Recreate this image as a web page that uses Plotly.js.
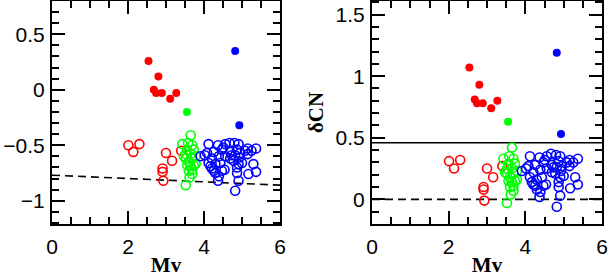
<!DOCTYPE html>
<html>
<head>
<meta charset="utf-8">
<script src="https://cdn.plot.ly/plotly-3.0.1.min.js"></script>
<style>html,body{margin:0;padding:0;background:#fff;}#chart{width:608px;height:277px;}</style>
</head>
<body>
<div id="chart"></div>
<script>
// ---- data (Mv shared by both panels; left = CN index, right = deltaCN) ----
const redFilledMv   = [2.54, 2.80, 2.68, 2.74, 2.89, 3.11, 3.27];
const redFilledCN   = [0.26, 0.12, 0.00, -0.03, -0.03, -0.08, -0.03];
const redFilledDCN  = [1.07, 0.93, 0.81, 0.78, 0.78, 0.74, 0.80];

const greenFilledMv  = [3.55];
const greenFilledCN  = [-0.20];
const greenFilledDCN = [0.63];

const blueFilledMv  = [4.82, 4.93];
const blueFilledCN  = [0.35, -0.32];
const blueFilledDCN = [1.19, 0.53];

const redOpenMv  = [2.01, 2.14, 2.30, 3.00, 3.16, 2.91, 2.91, 2.93, 3.40];
const redOpenCN  = [-0.50, -0.56, -0.49, -0.57, -0.64, -0.71, -0.74, -0.82, -0.55];
const redOpenDCN = [0.31, 0.25, 0.32, 0.25, 0.18, 0.10, 0.08, -0.01, 0.27];

const greenOpenMv  = [3.65, 3.58, 3.43, 3.69, 3.56, 3.73, 3.52, 3.65, 3.78, 3.52, 3.69,
                      3.60, 3.78, 3.65, 3.60, 3.69, 3.62, 3.52, 3.47, 3.73, 3.56, 3.69];
const greenOpenCN  = [-0.41, -0.48, -0.49, -0.50, -0.54, -0.54, -0.58, -0.58, -0.60, -0.62, -0.62,
                      -0.65, -0.67, -0.69, -0.73, -0.76, -0.79, -0.86, -0.60, -0.68, -0.68, -0.72];
const greenOpenDCN = [0.42, 0.35, 0.33, 0.33, 0.29, 0.29, 0.25, 0.25, 0.23, 0.21, 0.21,
                      0.18, 0.16, 0.14, 0.10, 0.07, 0.04, -0.03, 0.22, 0.15, 0.15, 0.11];

const blueOpenMv  = [3.91, 4.08, 4.12, 4.02, 4.26, 4.37, 4.51, 4.67, 4.80, 4.87, 4.69, 4.56,
                     4.39, 4.21, 4.30, 4.17, 4.26, 4.39, 4.37, 4.54, 4.87, 4.87, 4.91, 4.82,
                     5.00, 4.93, 4.78, 5.15, 5.37, 5.15, 5.30, 5.37, 5.17, 5.08, 5.25, 4.91,
                     4.56, 4.73, 4.69, 4.12, 4.43, 4.21, 4.82, 4.95, 4.47, 4.30, 4.47, 4.91];
const blueOpenCN  = [-0.60, -0.57, -0.49, -0.59, -0.56, -0.50, -0.52, -0.48, -0.48, -0.54, -0.56, -0.60,
                     -0.60, -0.62, -0.67, -0.69, -0.73, -0.78, -0.82, -0.72, -0.70, -0.75, -0.82, -0.91,
                     -0.66, -0.61, -0.64, -0.53, -0.53, -0.58, -0.67, -0.74, -0.76, -0.55, -0.55, -0.49,
                     -0.49, -0.59, -0.62, -0.66, -0.66, -0.71, -0.59, -0.57, -0.73, -0.75, -0.54, -0.67];
const blueOpenDCN = [0.23, 0.27, 0.35, 0.25, 0.28, 0.34, 0.32, 0.37, 0.36, 0.31, 0.28, 0.25,
                     0.24, 0.22, 0.16, 0.14, 0.11, 0.06, 0.02, 0.12, 0.14, 0.10, 0.03, -0.06,
                     0.19, 0.23, 0.21, 0.32, 0.33, 0.27, 0.18, 0.12, 0.09, 0.30, 0.30, 0.35,
                     0.35, 0.26, 0.22, 0.18, 0.18, 0.12, 0.26, 0.27, 0.11, 0.08, 0.30, 0.18];

// reference lines
const baseLeftX  = [0, 6];
const baseLeftY  = [-0.77, -0.86];
const zeroRightX = [0, 6];
const zeroRightY = [0, 0];
const cutRightX  = [0, 6];
const cutRightY  = [0.46, 0.46];

const xTicks = [0, 2, 4, 6];
const yTicksLeft  = [-1, -0.5, 0, 0.5];
const yTicksRight = [0, 0.5, 1, 1.5];

// ---- traces ----
function openTrace(x, y, color, xa, ya) {
  return {x: x, y: y, xaxis: xa, yaxis: ya, type: 'scatter', mode: 'markers',
    marker: {symbol: 'circle-open', size: 9, color: color, line: {width: 1.6, color: color}},
    hoverinfo: 'skip', showlegend: false, cliponaxis: false};
}
function filledTrace(x, y, color, xa, ya) {
  return {x: x, y: y, xaxis: xa, yaxis: ya, type: 'scatter', mode: 'markers',
    marker: {symbol: 'circle', size: 8, color: color, line: {width: 0}},
    hoverinfo: 'skip', showlegend: false, cliponaxis: false};
}
function lineTrace(x, y, dash, xa, ya) {
  return {x: x, y: y, xaxis: xa, yaxis: ya, type: 'scatter', mode: 'lines',
    line: {color: '#000', width: 1.6, dash: dash}, hoverinfo: 'skip', showlegend: false};
}
const RED = '#ff0000', GREEN = '#00ff00', BLUE = '#0000ff';

const data = [
  lineTrace(baseLeftX, baseLeftY, '8px,5px', 'x', 'y'),
  openTrace(redOpenMv, redOpenCN, RED, 'x', 'y'),
  openTrace(greenOpenMv, greenOpenCN, GREEN, 'x', 'y'),
  openTrace(blueOpenMv, blueOpenCN, BLUE, 'x', 'y'),
  filledTrace(redFilledMv, redFilledCN, RED, 'x', 'y'),
  filledTrace(greenFilledMv, greenFilledCN, GREEN, 'x', 'y'),
  filledTrace(blueFilledMv, blueFilledCN, BLUE, 'x', 'y'),

  lineTrace(zeroRightX, zeroRightY, '8px,5px', 'x2', 'y2'),
  lineTrace(cutRightX, cutRightY, 'solid', 'x2', 'y2'),
  openTrace(redOpenMv, redOpenDCN, RED, 'x2', 'y2'),
  openTrace(greenOpenMv, greenOpenDCN, GREEN, 'x2', 'y2'),
  openTrace(blueOpenMv, blueOpenDCN, BLUE, 'x2', 'y2'),
  filledTrace(redFilledMv, redFilledDCN, RED, 'x2', 'y2'),
  filledTrace(greenFilledMv, greenFilledDCN, GREEN, 'x2', 'y2'),
  filledTrace(blueFilledMv, blueFilledDCN, BLUE, 'x2', 'y2')
];

const tickFont = {family: 'Liberation Sans, Arial, sans-serif', size: 21, color: '#000'};
const titleFont = {family: 'Liberation Serif, Times New Roman, serif', size: 21, color: '#000'};

function xAxis(domain, anchor) {
  return {domain: domain, anchor: anchor, range: [0, 6], tickvals: xTicks,
    ticks: 'inside', ticklen: 13, tickwidth: 2, tickcolor: '#000',
    showline: true, linewidth: 2, linecolor: '#000', mirror: 'allticks',
    showgrid: false, zeroline: false, tickfont: tickFont, ticklabelstandoff: 3,
    minor: {dtick: 0.5, tick0: 0, ticks: 'inside', ticklen: 7, tickwidth: 2, tickcolor: '#000', showgrid: false},
    title: {text: '<b>Mv</b>', font: titleFont, standoff: 0}};
}
function yAxis(domain, anchor, range, vals, title) {
  const ax = {domain: domain, anchor: anchor, range: range, tickvals: vals,
    ticks: 'inside', ticklen: 13, tickwidth: 2, tickcolor: '#000',
    showline: true, linewidth: 2, linecolor: '#000', mirror: 'allticks',
    showgrid: false, zeroline: false, tickfont: tickFont, ticklabelstandoff: 1,
    minor: {dtick: 0.1, tick0: 0, ticks: 'inside', ticklen: 7, tickwidth: 2, tickcolor: '#000', showgrid: false}};
  if (title) ax.title = {text: title, font: titleFont, standoff: 6};
  return ax;
}

const layout = {
  width: 608, height: 277,
  margin: {l: 0, r: 0, t: 1, b: 53},
  paper_bgcolor: '#fff', plot_bgcolor: '#fff',
  showlegend: false,
  xaxis: xAxis([52/608, 280/608], 'y'),
  yaxis: yAxis([0, 1], 'x', [-1.21, 0.8], yTicksLeft, null),
  xaxis2: xAxis([372/608, 602/608], 'y2'),
  yaxis2: yAxis([0, 1], 'x2', [-0.2, 1.61], yTicksRight, '<b>δCN</b>')
};

Plotly.newPlot('chart', data, layout, {staticPlot: true, displayModeBar: false});
</script>
</body>
</html>
